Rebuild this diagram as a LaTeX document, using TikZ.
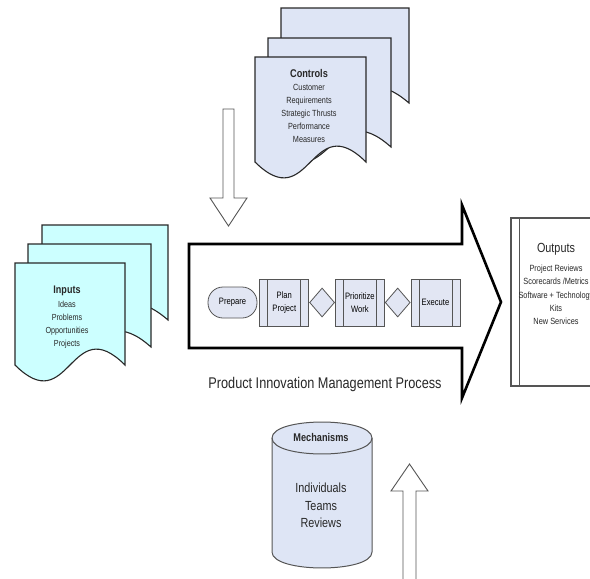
\documentclass[tikz,border=0pt]{standalone}
\usepackage{fontspec}
\setmainfont{Liberation Sans}[FakeStretch=0.82]
\usetikzlibrary{positioning,shapes.geometric}

\definecolor{ctrlblue}{RGB}{222,229,245}
\definecolor{inpcyan}{RGB}{204,255,255}
\definecolor{stepblue}{RGB}{226,230,243}
\definecolor{edgegray}{RGB}{85,85,85}
\definecolor{inkgray}{RGB}{40,40,40}

% one sheet of a document stack: left, top, right, bottom, fill
\newcommand{\docsheet}[5]{%
  \filldraw[fill=#5,draw=inkgray,line width=1.1pt] (#1,#2) -- (#3,#2) -- (#3,#4)
    .. controls ({(#1+#3)/2},{#4-55}) and ({(#1+#3)/2},{#4+55}) .. (#1,#4) -- cycle;}

\begin{document}
\begin{tikzpicture}[x=1pt,y=-1pt,
    stepbox/.style={draw=edgegray,fill=stepblue,line width=0.8pt,minimum width=49pt,
      minimum height=47pt,inner sep=0pt,align=center,font=\fontsize{9.3}{13.5}\selectfont,
      path picture={\draw[edgegray,line width=0.8pt]
        ([xshift=8pt]path picture bounding box.north west) -- ([xshift=8pt]path picture bounding box.south west)
        ([xshift=-8pt]path picture bounding box.north east) -- ([xshift=-8pt]path picture bounding box.south east);}},
    decision/.style={diamond,draw=edgegray,fill=stepblue,line width=0.8pt,minimum width=25pt,
      minimum height=29pt,inner sep=0pt},
    terminal/.style={rectangle,rounded corners=15pt,draw=edgegray,fill=stepblue,line width=0.8pt,
      minimum width=49pt,minimum height=31pt,inner sep=0pt,font=\fontsize{9.3}{11}\selectfont},
    blockarrow/.style={draw=edgegray,fill=white,line width=0.9pt},
    doctext/.style={align=center,anchor=north,inner sep=0pt,text=inkgray}]
  \fill[white] (0,0) rectangle (590,579);
  \useasboundingbox (0,0) rectangle (590,579);

  % controls
  \docsheet{281}{8}{409}{103}{ctrlblue}
  \docsheet{268}{38}{391}{147}{ctrlblue}
  \docsheet{255}{57}{366}{162}{ctrlblue}
  \node[doctext,font=\fontsize{8.9}{13}\selectfont] (ctrltext) at (309,69)
    {{\bfseries\fontsize{11.2}{13}\selectfont Controls}\\Customer\\Requirements\\Strategic Thrusts\\Performance\\Measures};
  \draw[blockarrow] (223,109) -- (234,109) -- (234,198) -- (247,198) -- (228.5,226)
    -- (210,198) -- (223,198) -- cycle;

  % inputs
  \docsheet{42}{225}{168}{320}{inpcyan}
  \docsheet{28}{244}{151}{347}{inpcyan}
  \docsheet{15}{263}{125}{365}{inpcyan}
  \node[doctext,font=\fontsize{8.8}{13.3}\selectfont] (inptext) at (67,286)
    {{\bfseries\fontsize{11}{13.3}\selectfont Inputs}\\Ideas\\Problems\\Opportunities\\Projects};

  % process
  \draw[line width=2.6pt,fill=white] (189,244) -- (462,244) -- (462,205) -- (501,302)
    -- (462,398) -- (462,348) -- (189,348) -- cycle;
  \node[terminal] (prepare) at (232.5,302.5) {Prepare};
  \node[stepbox,right=2pt of prepare] (plan) {Plan\\Project};
  \node[decision,right=0pt of plan] (gate1) {};
  \node[stepbox,right=0pt of gate1] (prio) {Prioritize\\Work};
  \node[decision,right=0pt of prio] (gate2) {};
  \node[stepbox,right=0pt of gate2] (exec) {Execute};
  \node[anchor=base,inner sep=0pt,font=\fontsize{15.5}{18}\selectfont,text=inkgray] (pimp) at (325,388.5)
    {Product Innovation Management Process};

  % outputs
  \draw[edgegray,line width=1.3pt,fill=white] (620,218) -- (511,218) -- (511,386) -- (620,386);
  \draw[edgegray,line width=1pt] (519,218) -- (519,386);
  \node[doctext,font=\fontsize{9}{13.25}\selectfont] (outtext) at (556,243)
    {{\fontsize{13.2}{13.25}\selectfont Outputs}\\[6pt]Project Reviews\\Scorecards /Metrics\\Software + Technology\\Kits\\New Services};

  % mechanisms
  \filldraw[fill=ctrlblue,draw=edgegray,line width=1pt] (272,438) -- (272,552)
    .. controls (272,573.3) and (372,573.3) .. (372,552) -- (372,438)
    .. controls (372,416.7) and (272,416.7) .. (272,438) -- cycle;
  \draw[edgegray,line width=1pt] (272,438) .. controls (272,459.3) and (372,459.3) .. (372,438);
  \node[inner sep=0pt,font=\bfseries\fontsize{11.2}{13}\selectfont,text=inkgray] (mechhead) at (321,437) {Mechanisms};
  \node[doctext,font=\fontsize{13.2}{17.5}\selectfont] (mechtext) at (321,483)
    {Individuals\\Teams\\Reviews};
  \draw[blockarrow] (403,590) -- (403,491) -- (391,491) -- (409.5,464) -- (428,491)
    -- (416,491) -- (416,590);
\end{tikzpicture}
\end{document}
